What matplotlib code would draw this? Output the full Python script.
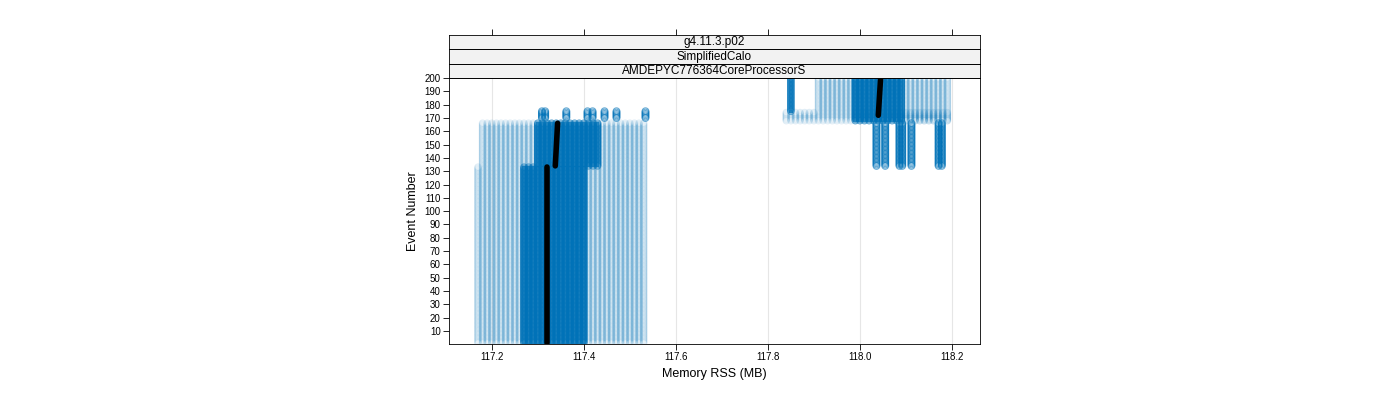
import matplotlib
matplotlib.use('Agg')
import matplotlib.pyplot as plt
import numpy as np

plt.rcParams['font.family'] = 'Liberation Sans'

strips = ['g4.11.3.p02', 'SimplifiedCalo', 'AMDEPYC776364CoreProcessorS']
x_ticks = [117.2, 117.4, 117.6, 117.8, 118.0, 118.2]
y_ticks = list(range(10, 201, 10))

# blocks of measurements: (rss_from, rss_to, event_from, event_to, dense?)
blk_rss_lo = [117.17, 117.27, 117.18, 117.30, 117.85, 117.91, 117.99, 118.10, 117.84]
blk_rss_hi = [117.53, 117.40, 117.53, 117.43, 117.85, 117.99, 118.09, 118.19, 118.19]
blk_ev_lo = [1, 1, 134, 134, 175, 175, 168, 168, 168]
blk_ev_hi = [133, 133, 166, 166, 200, 200, 200, 200, 174]
blk_dense = [False, True, False, True, True, False, True, False, False]

# single columns of points
col_rss = [117.309, 117.316, 117.362, 117.408, 117.419, 117.445, 117.471, 117.534,
           118.036, 118.055, 118.086, 118.092, 118.112, 118.171, 118.178]
col_ev_lo = [170] * 8 + [134] * 7
col_ev_hi = [175] * 8 + [166] * 7

# median line segments
med_rss = [117.32, 117.32, 117.338, 117.343, 118.04, 118.045]
med_ev = [1, 133, 134, 166, 172, 200]

fig = plt.figure(figsize=(14, 4), dpi=100)
ax = fig.add_axes([449 / 1400, 56 / 400, 531 / 1400, 266 / 400])
blue = '#0072b8'

for lo, hi, e0, e1, dense in zip(blk_rss_lo, blk_rss_hi, blk_ev_lo, blk_ev_hi, blk_dense):
    xs = np.arange(lo, hi + 0.001, 0.01)
    ev = np.arange(e0, e1 + 1)
    X, Y = np.meshgrid(xs, ev)
    ax.scatter(X.ravel(), Y.ravel(), s=22, facecolors='none', edgecolors=blue,
               linewidths=0.8, alpha=0.55 if dense else 0.12, zorder=2)
    if dense:
        ax.fill_between([lo - 0.004, hi + 0.004], e0 - 1, e1 + 1, color=blue, alpha=0.75,
                        lw=0, zorder=2)

for x, e0, e1 in zip(col_rss, col_ev_lo, col_ev_hi):
    ev = np.arange(e0, e1 + 1)
    ax.scatter(np.full(len(ev), x), ev, s=24, facecolors='none', edgecolors=blue,
               linewidths=0.8, alpha=0.6, zorder=3)

for i in range(0, len(med_rss), 2):
    ax.plot(med_rss[i:i + 2], med_ev[i:i + 2], color='black', lw=4, zorder=4,
            solid_capstyle='round')

ax.set_xlim(117.107, 118.261)
ax.set_ylim(0.2, 200)
ax.set_xticks(x_ticks)
ax.set_xticklabels([f'{v:.1f}' for v in x_ticks], fontsize=7)
ax.set_yticks(y_ticks)
ax.set_yticklabels([str(v) for v in y_ticks], fontsize=7)
ax.tick_params(length=4, width=0.6, direction='out', pad=2)
ax.grid(axis='x', color='#e6e6e6', lw=0.8, zorder=0)
ax.set_axisbelow(True)
for s in ax.spines.values():
    s.set_linewidth(0.6)
ax.set_xlabel('Memory RSS (MB)', fontsize=9)
ax.set_ylabel('Event Number', fontsize=9)

# strip headers
h = 14.5 / 400
for i, name in enumerate(reversed(strips)):
    sa = fig.add_axes([449 / 1400, 322 / 400 + i * h, 531 / 1400, h])
    sa.set_facecolor('#f2f2f2')
    sa.set_xticks([]); sa.set_yticks([])
    for s in sa.spines.values():
        s.set_linewidth(0.6)
    sa.text(0.5, 0.45, name, ha='center', va='center', fontsize=8.5, transform=sa.transAxes)
    if i == len(strips) - 1:
        sa.set_xlim(ax.get_xlim())
        sa.set_xticks(x_ticks)
        sa.tick_params(axis='x', top=True, bottom=False, labeltop=False, labelbottom=False,
                       length=4, width=0.6)

fig.savefig('out.png', dpi=100)
